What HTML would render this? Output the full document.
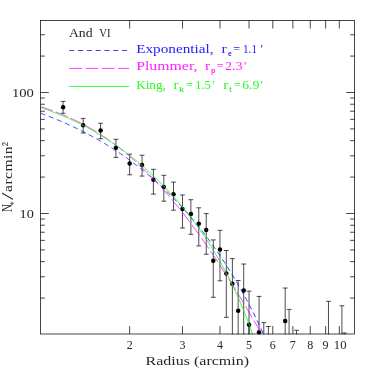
<!DOCTYPE html><html><head><meta charset="utf-8"><style>html,body{margin:0;padding:0;background:#fff}svg{display:block}text{font-family:"Liberation Serif",serif}</style></head><body>
<svg width="374" height="374" viewBox="0 0 374 374">
<rect width="374" height="374" fill="#fff"/>
<defs><filter id="f" x="0" y="0" width="100%" height="100%" color-interpolation-filters="sRGB"><feColorMatrix type="matrix" values="1 0 0 0 0 0 1 0 0 0 0 0 1 0 0 0 0 0 1 0"/></filter><clipPath id="c"><rect x="40.5" y="20.5" width="314" height="314"/></clipPath></defs>
<g clip-path="url(#c)" fill="none" stroke-width="0.8">
<path d="M63.10,101.40 V113.30 M60.70,101.40 h4.8" stroke="#000" stroke-width="0.7"/>
<path d="M60.70,113.30 h4.8" stroke="#000" stroke-width="0.7"/>
<path d="M83.18,118.40 V133.00 M80.78,118.40 h4.8" stroke="#000" stroke-width="0.7"/>
<path d="M80.78,133.00 h4.8" stroke="#000" stroke-width="0.7"/>
<path d="M100.58,123.30 V138.70 M98.18,123.30 h4.8" stroke="#000" stroke-width="0.7"/>
<path d="M98.18,138.70 h4.8" stroke="#000" stroke-width="0.7"/>
<path d="M115.92,139.30 V157.40 M113.52,139.30 h4.8" stroke="#000" stroke-width="0.7"/>
<path d="M113.52,157.40 h4.8" stroke="#000" stroke-width="0.7"/>
<path d="M129.65,154.20 V174.80 M127.25,154.20 h4.8" stroke="#000" stroke-width="0.7"/>
<path d="M127.25,174.80 h4.8" stroke="#000" stroke-width="0.7"/>
<path d="M142.07,155.20 V176.10 M139.67,155.20 h4.8" stroke="#000" stroke-width="0.7"/>
<path d="M139.67,176.10 h4.8" stroke="#000" stroke-width="0.7"/>
<path d="M153.40,169.30 V194.10 M151.00,169.30 h4.8" stroke="#000" stroke-width="0.7"/>
<path d="M151.00,194.10 h4.8" stroke="#000" stroke-width="0.7"/>
<path d="M163.83,175.30 V201.20 M161.43,175.30 h4.8" stroke="#000" stroke-width="0.7"/>
<path d="M161.43,201.20 h4.8" stroke="#000" stroke-width="0.7"/>
<path d="M173.49,182.10 V210.20 M171.09,182.10 h4.8" stroke="#000" stroke-width="0.7"/>
<path d="M171.09,210.20 h4.8" stroke="#000" stroke-width="0.7"/>
<path d="M182.48,195.00 V228.00 M180.08,195.00 h4.8" stroke="#000" stroke-width="0.7"/>
<path d="M180.08,228.00 h4.8" stroke="#000" stroke-width="0.7"/>
<path d="M190.89,199.70 V234.30 M188.49,199.70 h4.8" stroke="#000" stroke-width="0.7"/>
<path d="M188.49,234.30 h4.8" stroke="#000" stroke-width="0.7"/>
<path d="M198.78,207.80 V245.90 M196.38,207.80 h4.8" stroke="#000" stroke-width="0.7"/>
<path d="M196.38,245.90 h4.8" stroke="#000" stroke-width="0.7"/>
<path d="M206.23,213.60 V254.30 M203.83,213.60 h4.8" stroke="#000" stroke-width="0.7"/>
<path d="M203.83,254.30 h4.8" stroke="#000" stroke-width="0.7"/>
<path d="M213.28,239.90 V297.30 M210.88,239.90 h4.8" stroke="#000" stroke-width="0.7"/>
<path d="M210.88,297.30 h4.8" stroke="#000" stroke-width="0.7"/>
<path d="M219.96,230.30 V280.80 M217.56,230.30 h4.8" stroke="#000" stroke-width="0.7"/>
<path d="M217.56,280.80 h4.8" stroke="#000" stroke-width="0.7"/>
<path d="M226.32,250.50 V317.30 M223.92,250.50 h4.8" stroke="#000" stroke-width="0.7"/>
<path d="M223.92,317.30 h4.8" stroke="#000" stroke-width="0.7"/>
<path d="M232.38,258.60 V336.00 M229.98,258.60 h4.8" stroke="#000" stroke-width="0.7"/>
<path d="M238.17,280.50 V336.00 M235.77,280.50 h4.8" stroke="#000" stroke-width="0.7"/>
<path d="M243.71,264.00 V336.00 M241.31,264.00 h4.8" stroke="#000" stroke-width="0.7"/>
<path d="M249.03,291.10 V336.00 M246.63,291.10 h4.8" stroke="#000" stroke-width="0.7"/>
<path d="M259.06,296.40 V336.00 M256.66,296.40 h4.8" stroke="#000" stroke-width="0.7"/>
<path d="M263.80,322.60 V336.00 M261.40,322.60 h4.8" stroke="#000" stroke-width="0.7"/>
<path d="M268.37,326.50 V336.00 M265.97,326.50 h4.8" stroke="#000" stroke-width="0.7"/>
<path d="M285.20,288.00 V336.00 M282.80,288.00 h4.8" stroke="#000" stroke-width="0.7"/>
<path d="M289.09,309.40 V336.00 M286.69,309.40 h4.8" stroke="#000" stroke-width="0.7"/>
<path d="M296.54,330.30 V336.00 M294.14,330.30 h4.8" stroke="#000" stroke-width="0.7"/>
<path d="M328.48,301.30 V336.00 M326.08,301.30 h4.8" stroke="#000" stroke-width="0.7"/>
<path d="M341.92,305.80 V336.00 M339.52,305.80 h4.8" stroke="#000" stroke-width="0.7"/>
<path d="M344.45,333.00 V336.00 M342.05,333.00 h4.8" stroke="#000" stroke-width="0.7"/>
<circle cx="63.10" cy="107.20" r="2.25" fill="#000" stroke="none"/>
<circle cx="83.18" cy="125.20" r="2.25" fill="#000" stroke="none"/>
<circle cx="100.58" cy="130.60" r="2.25" fill="#000" stroke="none"/>
<circle cx="115.92" cy="147.70" r="2.25" fill="#000" stroke="none"/>
<circle cx="129.65" cy="163.60" r="2.25" fill="#000" stroke="none"/>
<circle cx="142.07" cy="164.90" r="2.25" fill="#000" stroke="none"/>
<circle cx="153.40" cy="179.70" r="2.25" fill="#000" stroke="none"/>
<circle cx="163.83" cy="187.00" r="2.25" fill="#000" stroke="none"/>
<circle cx="173.49" cy="194.20" r="2.25" fill="#000" stroke="none"/>
<circle cx="182.48" cy="208.90" r="2.25" fill="#000" stroke="none"/>
<circle cx="190.89" cy="214.10" r="2.25" fill="#000" stroke="none"/>
<circle cx="198.78" cy="223.70" r="2.25" fill="#000" stroke="none"/>
<circle cx="206.23" cy="229.90" r="2.25" fill="#000" stroke="none"/>
<circle cx="213.28" cy="260.80" r="2.25" fill="#000" stroke="none"/>
<circle cx="219.96" cy="249.60" r="2.25" fill="#000" stroke="none"/>
<circle cx="226.32" cy="273.40" r="2.25" fill="#000" stroke="none"/>
<circle cx="232.38" cy="283.70" r="2.25" fill="#000" stroke="none"/>
<circle cx="238.17" cy="310.80" r="2.25" fill="#000" stroke="none"/>
<circle cx="243.71" cy="290.60" r="2.25" fill="#000" stroke="none"/>
<circle cx="249.03" cy="324.80" r="2.25" fill="#000" stroke="none"/>
<circle cx="259.06" cy="332.30" r="2.25" fill="#000" stroke="none"/>
<circle cx="285.20" cy="320.90" r="2.25" fill="#000" stroke="none"/>
<path d="M40.50,113.14 L41.50,113.50 L42.50,113.88 L43.50,114.25 L44.50,114.63 L45.50,115.01 L46.50,115.39 L47.50,115.77 L48.50,116.16 L49.50,116.56 L50.50,116.95 L51.50,117.35 L52.50,117.75 L53.50,118.15 L54.50,118.56 L55.50,118.97 L56.50,119.38 L57.50,119.80 L58.50,120.22 L59.50,120.64 L60.50,121.07 L61.50,121.50 L62.50,121.93 L63.50,122.37 L64.50,122.81 L65.50,123.25 L66.50,123.70 L67.50,124.15 L68.50,124.60 L69.50,125.06 L70.50,125.52 L71.50,125.98 L72.50,126.45 L73.50,126.92 L74.50,127.39 L75.50,127.87 L76.50,128.36 L77.50,128.84 L78.50,129.33 L79.50,129.82 L80.50,130.32 L81.50,130.82 L82.50,131.33 L83.50,131.84 L84.50,132.35 L85.50,132.86 L86.50,133.39 L87.50,133.91 L88.50,134.44 L89.50,134.97 L90.50,135.51 L91.50,136.05 L92.50,136.60 L93.50,137.14 L94.50,137.70 L95.50,138.26 L96.50,138.82 L97.50,139.39 L98.50,139.96 L99.50,140.53 L100.50,141.11 L101.50,141.70 L102.50,142.28 L103.50,142.88 L104.50,143.48 L105.50,144.08 L106.50,144.69 L107.50,145.30 L108.50,145.91 L109.50,146.54 L110.50,147.16 L111.50,147.79 L112.50,148.43 L113.50,149.07 L114.50,149.72 L115.50,150.37 L116.50,151.02 L117.50,151.68 L118.50,152.35 L119.50,153.02 L120.50,153.70 L121.50,154.38 L122.50,155.07 L123.50,155.76 L124.50,156.46 L125.50,157.16 L126.50,157.87 L127.50,158.58 L128.50,159.30 L129.50,160.03 L130.50,160.76 L131.50,161.49 L132.50,162.24 L133.50,162.98 L134.50,163.74 L135.50,164.50 L136.50,165.26 L137.50,166.03 L138.50,166.81 L139.50,167.60 L140.50,168.38 L141.50,169.18 L142.50,169.98 L143.50,170.79 L144.50,171.60 L145.50,172.42 L146.50,173.25 L147.50,174.09 L148.50,174.93 L149.50,175.77 L150.50,176.62 L151.50,177.48 L152.50,178.35 L153.50,179.22 L154.50,180.10 L155.50,180.99 L156.50,181.88 L157.50,182.78 L158.50,183.69 L159.50,184.61 L160.50,185.53 L161.50,186.46 L162.50,187.39 L163.50,188.34 L164.50,189.29 L165.50,190.24 L166.50,191.21 L167.50,192.18 L168.50,193.16 L169.50,194.15 L170.50,195.15 L171.50,196.15 L172.50,197.17 L173.50,198.19 L174.50,199.21 L175.50,200.25 L176.50,201.29 L177.50,202.34 L178.50,203.41 L179.50,204.47 L180.50,205.55 L181.50,206.64 L182.50,207.73 L183.50,208.83 L184.50,209.95 L185.50,211.07 L186.50,212.19 L187.50,213.33 L188.50,214.48 L189.50,215.63 L190.50,216.80 L191.50,217.97 L192.50,219.16 L193.50,220.35 L194.50,221.55 L195.50,222.77 L196.50,223.99 L197.50,225.22 L198.50,226.46 L199.50,227.71 L200.50,228.97 L201.50,230.24 L202.50,231.52 L203.50,232.82 L204.50,234.12 L205.50,235.43 L206.50,236.75 L207.50,238.09 L208.50,239.43 L209.50,240.78 L210.50,242.15 L211.50,243.53 L212.50,244.92 L213.50,246.32 L214.50,247.73 L215.50,249.15 L216.50,250.58 L217.50,252.03 L218.50,253.49 L219.50,254.96 L220.50,256.44 L221.50,257.93 L222.50,259.44 L223.50,260.96 L224.50,262.49 L225.50,264.03 L226.50,265.59 L227.50,267.16 L228.50,268.74 L229.50,270.34 L230.50,271.95 L231.50,273.57 L232.50,275.21 L233.50,276.86 L234.50,278.53 L235.50,280.21 L236.50,281.91 L237.50,283.62 L238.50,285.34 L239.50,287.08 L240.50,288.84 L241.50,290.61 L242.50,292.39 L243.50,294.20 L244.50,296.02 L245.50,297.85 L246.50,299.71 L247.50,301.57 L248.50,303.46 L249.50,305.37 L250.50,307.29 L251.50,309.23 L252.50,311.19 L253.50,313.17 L254.50,315.17 L255.50,317.19 L256.50,319.23 L257.50,321.28 L258.50,323.36 L259.50,325.47 L260.50,327.59 L261.50,329.74 L262.50,331.91 L263.50,334.10 L264.50,336.32 L265.50,338.56 L266.50,340.83 L267.50,343.12 L268.50,345.44 L269.50,347.79 L270.50,350.17 L271.50,352.58 L272.50,355.01 L273.50,357.49 L274.50,359.99 L275.50,362.53 L276.50,365.10 L277.50,367.71 L278.50,370.36" stroke="#0000ff" stroke-dasharray="5.1 3.7"/>
<path d="M40.50,106.60 L41.50,106.91 L42.50,107.23 L43.50,107.56 L44.50,107.89 L45.50,108.22 L46.50,108.56 L47.50,108.90 L48.50,109.25 L49.50,109.60 L50.50,109.95 L51.50,110.31 L52.50,110.68 L53.50,111.05 L54.50,111.42 L55.50,111.80 L56.50,112.18 L57.50,112.57 L58.50,112.97 L59.50,113.36 L60.50,113.77 L61.50,114.17 L62.50,114.59 L63.50,115.01 L64.50,115.43 L65.50,115.86 L66.50,116.29 L67.50,116.73 L68.50,117.18 L69.50,117.63 L70.50,118.08 L71.50,118.54 L72.50,119.01 L73.50,119.48 L74.50,119.96 L75.50,120.44 L76.50,120.93 L77.50,121.42 L78.50,121.92 L79.50,122.43 L80.50,122.94 L81.50,123.46 L82.50,123.98 L83.50,124.52 L84.50,125.05 L85.50,125.59 L86.50,126.14 L87.50,126.70 L88.50,127.26 L89.50,127.83 L90.50,128.40 L91.50,128.98 L92.50,129.57 L93.50,130.16 L94.50,130.76 L95.50,131.36 L96.50,131.98 L97.50,132.60 L98.50,133.22 L99.50,133.86 L100.50,134.50 L101.50,135.14 L102.50,135.80 L103.50,136.46 L104.50,137.12 L105.50,137.80 L106.50,138.48 L107.50,139.17 L108.50,139.86 L109.50,140.56 L110.50,141.27 L111.50,141.99 L112.50,142.71 L113.50,143.44 L114.50,144.18 L115.50,144.93 L116.50,145.68 L117.50,146.44 L118.50,147.21 L119.50,147.99 L120.50,148.77 L121.50,149.56 L122.50,150.36 L123.50,151.16 L124.50,151.98 L125.50,152.80 L126.50,153.62 L127.50,154.46 L128.50,155.30 L129.50,156.16 L130.50,157.01 L131.50,157.88 L132.50,158.76 L133.50,159.64 L134.50,160.53 L135.50,161.43 L136.50,162.33 L137.50,163.25 L138.50,164.17 L139.50,165.10 L140.50,166.03 L141.50,166.98 L142.50,167.93 L143.50,168.89 L144.50,169.86 L145.50,170.84 L146.50,171.82 L147.50,172.82 L148.50,173.82 L149.50,174.83 L150.50,175.84 L151.50,176.87 L152.50,177.90 L153.50,178.94 L154.50,179.99 L155.50,181.05 L156.50,182.11 L157.50,183.18 L158.50,184.26 L159.50,185.35 L160.50,186.45 L161.50,187.55 L162.50,188.67 L163.50,189.79 L164.50,190.91 L165.50,192.05 L166.50,193.19 L167.50,194.35 L168.50,195.51 L169.50,196.67 L170.50,197.85 L171.50,199.03 L172.50,200.22 L173.50,201.42 L174.50,202.63 L175.50,203.84 L176.50,205.07 L177.50,206.30 L178.50,207.53 L179.50,208.78 L180.50,210.03 L181.50,211.29 L182.50,212.56 L183.50,213.84 L184.50,215.12 L185.50,216.41 L186.50,217.71 L187.50,219.01 L188.50,220.33 L189.50,221.65 L190.50,222.97 L191.50,224.31 L192.50,225.65 L193.50,227.00 L194.50,228.36 L195.50,229.72 L196.50,231.10 L197.50,232.47 L198.50,233.86 L199.50,235.25 L200.50,236.65 L201.50,238.06 L202.50,239.47 L203.50,240.89 L204.50,242.32 L205.50,243.76 L206.50,245.20 L207.50,246.65 L208.50,248.10 L209.50,249.56 L210.50,251.03 L211.50,252.50 L212.50,253.99 L213.50,255.47 L214.50,256.97 L215.50,258.47 L216.50,259.97 L217.50,261.49 L218.50,263.01 L219.50,264.53 L220.50,266.07 L221.50,267.60 L222.50,269.15 L223.50,270.70 L224.50,272.25 L225.50,273.82 L226.50,275.39 L227.50,276.96 L228.50,278.54 L229.50,280.13 L230.50,281.72 L231.50,283.31 L232.50,284.92 L233.50,286.53 L234.50,288.14 L235.50,289.76 L236.50,291.38 L237.50,293.01 L238.50,294.65 L239.50,296.29 L240.50,297.94 L241.50,299.59 L242.50,301.25 L243.50,302.91 L244.50,304.58 L245.50,306.25 L246.50,307.92 L247.50,309.61 L248.50,311.29 L249.50,312.99 L250.50,314.68 L251.50,316.38 L252.50,318.09 L253.50,319.80 L254.50,321.52 L255.50,323.23 L256.50,324.96 L257.50,326.69 L258.50,328.42 L259.50,330.16 L260.50,331.90 L261.50,333.65 L262.50,335.40 L263.50,337.15 L264.50,338.91 L265.50,340.68 L266.50,342.44 L267.50,344.21 L268.50,345.99 L269.50,347.77 L270.50,349.55 L271.50,351.34 L272.50,353.13 L273.50,354.92 L274.50,356.72 L275.50,358.52 L276.50,360.33 L277.50,362.14 L278.50,363.95 L279.50,365.77 L280.50,367.59 L281.50,369.41" stroke="#ff00ff" stroke-dasharray="12.9 3.4"/>
<path d="M40.50,107.62 L41.50,107.95 L42.50,108.28 L43.50,108.62 L44.50,108.96 L45.50,109.30 L46.50,109.65 L47.50,110.00 L48.50,110.36 L49.50,110.72 L50.50,111.08 L51.50,111.45 L52.50,111.82 L53.50,112.20 L54.50,112.58 L55.50,112.97 L56.50,113.35 L57.50,113.75 L58.50,114.15 L59.50,114.55 L60.50,114.95 L61.50,115.37 L62.50,115.78 L63.50,116.20 L64.50,116.62 L65.50,117.05 L66.50,117.49 L67.50,117.92 L68.50,118.37 L69.50,118.81 L70.50,119.27 L71.50,119.72 L72.50,120.18 L73.50,120.65 L74.50,121.12 L75.50,121.59 L76.50,122.07 L77.50,122.56 L78.50,123.05 L79.50,123.54 L80.50,124.04 L81.50,124.55 L82.50,125.06 L83.50,125.57 L84.50,126.09 L85.50,126.62 L86.50,127.15 L87.50,127.68 L88.50,128.22 L89.50,128.77 L90.50,129.32 L91.50,129.88 L92.50,130.44 L93.50,131.01 L94.50,131.58 L95.50,132.16 L96.50,132.74 L97.50,133.33 L98.50,133.92 L99.50,134.52 L100.50,135.13 L101.50,135.74 L102.50,136.35 L103.50,136.97 L104.50,137.60 L105.50,138.24 L106.50,138.87 L107.50,139.52 L108.50,140.17 L109.50,140.83 L110.50,141.49 L111.50,142.16 L112.50,142.83 L113.50,143.51 L114.50,144.19 L115.50,144.89 L116.50,145.58 L117.50,146.29 L118.50,147.00 L119.50,147.71 L120.50,148.44 L121.50,149.16 L122.50,149.90 L123.50,150.64 L124.50,151.39 L125.50,152.14 L126.50,152.90 L127.50,153.67 L128.50,154.44 L129.50,155.22 L130.50,156.00 L131.50,156.80 L132.50,157.60 L133.50,158.40 L134.50,159.21 L135.50,160.03 L136.50,160.86 L137.50,161.69 L138.50,162.53 L139.50,163.38 L140.50,164.23 L141.50,165.09 L142.50,165.96 L143.50,166.83 L144.50,167.71 L145.50,168.60 L146.50,169.50 L147.50,170.40 L148.50,171.31 L149.50,172.23 L150.50,173.15 L151.50,174.08 L152.50,175.02 L153.50,175.97 L154.50,176.93 L155.50,177.89 L156.50,178.86 L157.50,179.84 L158.50,180.83 L159.50,181.82 L160.50,182.83 L161.50,183.84 L162.50,184.86 L163.50,185.88 L164.50,186.92 L165.50,187.96 L166.50,189.02 L167.50,190.08 L168.50,191.15 L169.50,192.23 L170.50,193.32 L171.50,194.41 L172.50,195.52 L173.50,196.63 L174.50,197.76 L175.50,198.89 L176.50,200.04 L177.50,201.19 L178.50,202.35 L179.50,203.53 L180.50,204.71 L181.50,205.90 L182.50,207.10 L183.50,208.32 L184.50,209.54 L185.50,210.78 L186.50,212.02 L187.50,213.28 L188.50,214.55 L189.50,215.83 L190.50,217.12 L191.50,218.42 L192.50,219.73 L193.50,221.06 L194.50,222.40 L195.50,223.75 L196.50,225.11 L197.50,226.49 L198.50,227.88 L199.50,229.28 L200.50,230.70 L201.50,232.13 L202.50,233.57 L203.50,235.03 L204.50,236.50 L205.50,237.99 L206.50,239.49 L207.50,241.01 L208.50,242.55 L209.50,244.10 L210.50,245.66 L211.50,247.25 L212.50,248.85 L213.50,250.46 L214.50,252.10 L215.50,253.76 L216.50,255.43 L217.50,257.12 L218.50,258.83 L219.50,260.57 L220.50,262.32 L221.50,264.09 L222.50,265.89 L223.50,267.71 L224.50,269.55 L225.50,271.42 L226.50,273.30 L227.50,275.22 L228.50,277.16 L229.50,279.13 L230.50,281.12 L231.50,283.14 L232.50,285.19 L233.50,287.27 L234.50,289.39 L235.50,291.53 L236.50,293.71 L237.50,295.92 L238.50,298.16 L239.50,300.45 L240.50,302.77 L241.50,305.13 L242.50,307.53 L243.50,309.97 L244.50,312.46 L245.50,314.99 L246.50,317.58 L247.50,320.21 L248.50,322.89 L249.50,325.63 L250.50,328.43 L251.50,331.28 L252.50,334.20 L253.50,337.18 L254.50,340.24 L255.50,343.36 L256.50,346.57 L257.50,349.85 L258.50,353.22 L259.50,356.68 L260.50,360.23 L261.50,363.89 L262.50,367.66" stroke="#00ff00"/>
</g>
<g stroke="#000" stroke-width="0.72" fill="none">
<rect x="40.5" y="20.5" width="314" height="313.5"/>
<path d="M129.65,334 v-8 M129.65,20.5 v8 M182.48,334 v-8 M182.48,20.5 v8 M219.96,334 v-8 M219.96,20.5 v8 M249.03,334 v-8 M249.03,20.5 v8 M272.79,334 v-8 M272.79,20.5 v8 M292.87,334 v-8 M292.87,20.5 v8 M310.27,334 v-8 M310.27,20.5 v8 M325.61,334 v-8 M325.61,20.5 v8 M339.34,334 v-8 M339.34,20.5 v8 M40.5,298.08 h4.4 M354.5,298.08 h-4.4 M40.5,276.77 h4.4 M354.5,276.77 h-4.4 M40.5,261.65 h4.4 M354.5,261.65 h-4.4 M40.5,249.92 h4.4 M354.5,249.92 h-4.4 M40.5,240.34 h4.4 M354.5,240.34 h-4.4 M40.5,232.24 h4.4 M354.5,232.24 h-4.4 M40.5,225.23 h4.4 M354.5,225.23 h-4.4 M40.5,219.04 h4.4 M354.5,219.04 h-4.4 M40.5,213.50 h8.3 M354.5,213.50 h-8.3 M40.5,177.08 h4.4 M354.5,177.08 h-4.4 M40.5,155.77 h4.4 M354.5,155.77 h-4.4 M40.5,140.65 h4.4 M354.5,140.65 h-4.4 M40.5,128.92 h4.4 M354.5,128.92 h-4.4 M40.5,119.34 h4.4 M354.5,119.34 h-4.4 M40.5,111.24 h4.4 M354.5,111.24 h-4.4 M40.5,104.23 h4.4 M354.5,104.23 h-4.4 M40.5,98.04 h4.4 M354.5,98.04 h-4.4 M40.5,92.50 h8.3 M354.5,92.50 h-8.3 M40.5,56.08 h4.4 M354.5,56.08 h-4.4 M40.5,34.77 h4.4 M354.5,34.77 h-4.4 "/>
</g>
<g filter="url(#f)">
<text x="126.65" y="348.8" font-size="12.2" text-anchor="start" fill="#262626" textLength="6" lengthAdjust="spacingAndGlyphs" >2</text>
<text x="179.477" y="348.8" font-size="12.2" text-anchor="start" fill="#262626" textLength="6" lengthAdjust="spacingAndGlyphs" >3</text>
<text x="216.959" y="348.8" font-size="12.2" text-anchor="start" fill="#262626" textLength="6" lengthAdjust="spacingAndGlyphs" >4</text>
<text x="246.032" y="348.8" font-size="12.2" text-anchor="start" fill="#262626" textLength="6" lengthAdjust="spacingAndGlyphs" >5</text>
<text x="269.786" y="348.8" font-size="12.2" text-anchor="start" fill="#262626" textLength="6" lengthAdjust="spacingAndGlyphs" >6</text>
<text x="289.87" y="348.8" font-size="12.2" text-anchor="start" fill="#262626" textLength="6" lengthAdjust="spacingAndGlyphs" >7</text>
<text x="307.268" y="348.8" font-size="12.2" text-anchor="start" fill="#262626" textLength="6" lengthAdjust="spacingAndGlyphs" >8</text>
<text x="322.614" y="348.8" font-size="12.2" text-anchor="start" fill="#262626" textLength="6" lengthAdjust="spacingAndGlyphs" >9</text>
<text x="333.791" y="348.8" font-size="12.2" text-anchor="start" fill="#262626" textLength="12.7" lengthAdjust="spacingAndGlyphs" >10</text>
<text x="11.9" y="96.9" font-size="12.2" text-anchor="start" fill="#262626" textLength="21.9" lengthAdjust="spacingAndGlyphs" >100</text>
<text x="19.5" y="217.9" font-size="12.2" text-anchor="start" fill="#262626" textLength="14.3" lengthAdjust="spacingAndGlyphs" >10</text>
<text x="145.6" y="365.4" font-size="12.2" text-anchor="start" fill="#262626" textLength="103.4" lengthAdjust="spacingAndGlyphs" >Radius (arcmin)</text>
<text x="68.9" y="37" font-size="12.2" text-anchor="start" fill="#262626" textLength="23.6" lengthAdjust="spacingAndGlyphs" >And</text>
<text x="99.3" y="37" font-size="12.2" text-anchor="start" fill="#262626" textLength="11.2" lengthAdjust="spacingAndGlyphs" >VI</text>
<g transform="translate(12.0,211.5) rotate(-90)" fill="#262626" font-size="13">
<text x="-0.4" y="0" font-size="13.6" textLength="7.8" lengthAdjust="spacingAndGlyphs">N</text>
<text x="6.2" y="4.6" font-size="10.5" textLength="4" lengthAdjust="spacingAndGlyphs">*</text>
<text x="11.6" y="1.3" font-size="16" textLength="7.6" lengthAdjust="spacingAndGlyphs">/</text>
<text transform="translate(19.5,0) scale(1.2,1.04)" x="0" y="0" textLength="38" lengthAdjust="spacing">arcmin</text>
<text x="65.3" y="-4.0" font-size="8.2" textLength="4.3" lengthAdjust="spacingAndGlyphs" style="font-family:'Liberation Sans'">2</text>
</g>
<g fill="none" stroke-width="0.75">
<path d="M69.2,50.5 H127.1" stroke="#0000ff" stroke-dasharray="5.1 3.7"/>
<path d="M69.2,68.4 H129.1" stroke="#ff00ff" stroke-dasharray="12.9 3.4"/>
<path d="M69.2,86.45 H129.1" stroke="#00ff00"/>
</g>
<text x="136.2" y="53.1" font-size="12.6" fill="#2222ff" textLength="77.3" lengthAdjust="spacingAndGlyphs" >Exponential,</text>
<text x="221.5" y="53.1" font-size="12.6" fill="#2222ff" textLength="5.3" lengthAdjust="spacingAndGlyphs" >r</text>
<text x="228.1" y="55.7" font-size="7.5" fill="#2222ff" textLength="3.7" lengthAdjust="spacingAndGlyphs" font-family="Liberation Sans" font-weight="bold" style="font-family:'Liberation Sans'">e</text>
<text x="233.3" y="53.1" font-size="12.6" fill="#2222ff" textLength="6.9" lengthAdjust="spacingAndGlyphs" >=</text>
<text x="243" y="53.1" font-size="12.6" fill="#2222ff" textLength="14" lengthAdjust="spacingAndGlyphs" >1.1</text>
<text x="260.6" y="53.1" font-size="12.6" fill="#2222ff" textLength="2.3" lengthAdjust="spacingAndGlyphs" >'</text>
<text x="136.2" y="70.1" font-size="12.6" fill="#ff22ff" textLength="61.3" lengthAdjust="spacingAndGlyphs" >Plummer,</text>
<text x="205" y="70.1" font-size="12.6" fill="#ff22ff" textLength="5.2" lengthAdjust="spacingAndGlyphs" >r</text>
<text x="211" y="72.7" font-size="7.5" fill="#ff22ff" textLength="4.3" lengthAdjust="spacingAndGlyphs" font-family="Liberation Sans" font-weight="bold" style="font-family:'Liberation Sans'">p</text>
<text x="216.8" y="70.1" font-size="12.6" fill="#ff22ff" textLength="6.9" lengthAdjust="spacingAndGlyphs" >=</text>
<text x="225" y="70.1" font-size="12.6" fill="#ff22ff" textLength="17.6" lengthAdjust="spacingAndGlyphs" >2.3</text>
<text x="244.1" y="70.1" font-size="12.6" fill="#ff22ff" textLength="2.3" lengthAdjust="spacingAndGlyphs" >'</text>
<text x="136.2" y="89" font-size="12.6" fill="#22ff22" textLength="29.6" lengthAdjust="spacingAndGlyphs" >King,</text>
<text x="173.4" y="89" font-size="12.6" fill="#22ff22" textLength="5" lengthAdjust="spacingAndGlyphs" >r</text>
<text x="179.2" y="92" font-size="7.5" fill="#22ff22" textLength="4.7" lengthAdjust="spacingAndGlyphs" font-family="Liberation Sans" font-weight="bold" style="font-family:'Liberation Sans'">k</text>
<text x="185.8" y="89" font-size="12.6" fill="#22ff22" textLength="7" lengthAdjust="spacingAndGlyphs" >=</text>
<text x="195.2" y="89" font-size="12.6" fill="#22ff22" textLength="15.6" lengthAdjust="spacingAndGlyphs" >1.5</text>
<text x="212.6" y="89" font-size="12.6" fill="#22ff22" textLength="2.3" lengthAdjust="spacingAndGlyphs" >'</text>
<text x="223.3" y="89" font-size="12.6" fill="#22ff22" textLength="5.1" lengthAdjust="spacingAndGlyphs" >r</text>
<text x="229.3" y="92" font-size="7.5" fill="#22ff22" textLength="2.3" lengthAdjust="spacingAndGlyphs" font-family="Liberation Sans" font-weight="bold" style="font-family:'Liberation Sans'">t</text>
<text x="233.4" y="89" font-size="12.6" fill="#22ff22" textLength="6.8" lengthAdjust="spacingAndGlyphs" >=</text>
<text x="242.2" y="89" font-size="12.6" fill="#22ff22" textLength="17.2" lengthAdjust="spacingAndGlyphs" >6.9</text>
<text x="260.6" y="89" font-size="12.6" fill="#22ff22" textLength="2.3" lengthAdjust="spacingAndGlyphs" >'</text>
</g>
</svg></body></html>
